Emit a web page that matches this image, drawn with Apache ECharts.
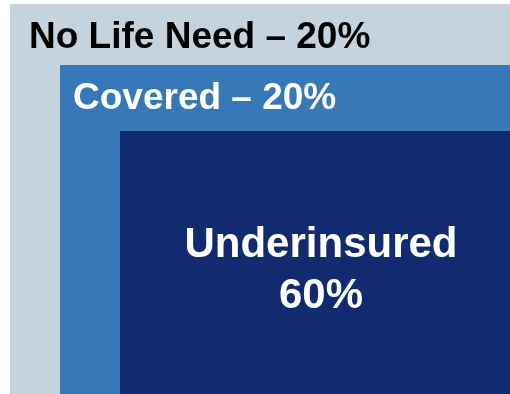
<!DOCTYPE html>
<html>
<head>
<meta charset="utf-8">
<script src="https://cdn.jsdelivr.net/npm/echarts@6/dist/echarts.min.js"></script>
<style>
html,body{margin:0;padding:0;background:#ffffff;}
#chart{width:510px;height:394px;}
</style>
</head>
<body>
<div id="chart"></div>
<script>
// Data
const categories = ['No Life Need', 'Covered', 'Underinsured'];
const values = [20, 20, 60];

// Styles per nesting level (layout only)
const levelColors = ['#c5d3df', '#3778b8', '#112a70'];
const levelTextColors = ['#000000', '#ffffff', '#ffffff'];
const levelInsets = [[10, 4], [60, 65], [120, 131]];

const chart = echarts.init(document.getElementById('chart'), null, {renderer: 'canvas'});
const FONT = '"Liberation Sans", Arial, Helvetica, sans-serif';

function labelFor(i) {
  return i === categories.length - 1
    ? categories[i] + '\n' + values[i] + '%'
    : categories[i] + ' \u2013 ' + values[i] + '%';
}

chart.setOption({
  animation: false,
  series: [{
    type: 'custom',
    coordinateSystem: 'none',
    data: categories.map((c, i) => ({ name: c, value: values[i] })),
    renderItem: function (params, api) {
      const i = params.dataIndex;
      const W = api.getWidth(), H = api.getHeight();
      const x0 = levelInsets[i][0], y0 = levelInsets[i][1];
      const last = i === categories.length - 1;
      let text;
      if (!last) {
        text = {
          type: 'text',
          style: {
            x: x0 + (i === 0 ? 19 : 13),
            y: y0 + (i === 0 ? 34 : 34),
            text: labelFor(i),
            fill: levelTextColors[i],
            font: 'bold 37px ' + FONT,
            align: 'left',
            verticalAlign: 'middle'
          }
        };
      } else {
        text = {
          type: 'text',
          style: {
            x: 321,
            y: 271,
            text: labelFor(i),
            fill: levelTextColors[i],
            font: 'bold 42px ' + FONT,
            lineHeight: 51,
            align: 'center',
            verticalAlign: 'middle'
          }
        };
      }
      return {
        type: 'group',
        children: [
          { type: 'rect', shape: { x: x0, y: y0, width: W - x0, height: H - y0 }, style: { fill: levelColors[i] } },
          text
        ]
      };
    }
  }]
});
</script>
</body>
</html>
